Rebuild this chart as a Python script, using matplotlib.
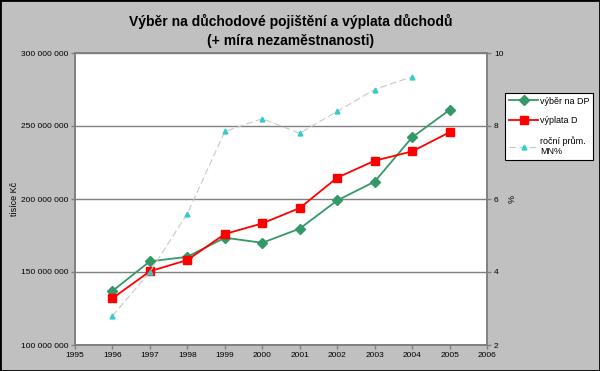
import numpy as np
import matplotlib.pyplot as plt

plt.rcParams['font.family'] = ['Liberation Sans', 'DejaVu Sans']

years = [1996, 1997, 1998, 1999, 2000, 2001, 2002, 2003, 2004, 2005]
vyber = [137.0, 157.3, 160.4, 173.5, 170.0, 179.7, 199.0, 211.9, 242.2, 261.0]  # mil. tisíc Kč
vyplata = [132.0, 150.5, 158.2, 176.0, 183.3, 193.8, 214.6, 226.2, 232.6, 245.7]
mn_years = [1996, 1997, 1998, 1999, 2000, 2001, 2002, 2003, 2004]
mn = [2.8, 4.0, 5.6, 7.85, 8.2, 7.8, 8.4, 9.0, 9.35]

bg = '#c0c0c0'
grid_c = '#808080'

fig = plt.figure(figsize=(6, 3.71), dpi=100, facecolor=bg)
fig.patches.append(plt.Rectangle((0, 0), 1, 1, transform=fig.transFigure,
                                 fill=False, edgecolor='black', linewidth=2))
W, H = 600, 371
ax = fig.add_axes([75 / W, 1 - 345 / H, (487 - 75) / W, (345 - 53) / H])
ax.set_facecolor('white')
ax2 = ax.twinx()

l1, = ax.plot(years, np.array(vyber) * 1e6, color='#339966', lw=1.3,
              marker='D', ms=5, label='výběr na DP')
l2, = ax.plot(years, np.array(vyplata) * 1e6, color='#ff0000', lw=1.3,
              marker='s', ms=5.5, label='výplata D')
l3, = ax2.plot(mn_years, mn, color='#c8c8c8', lw=0.8, ls=(0, (6, 3)),
               marker='^', ms=3.5, mfc='#33cccc', mec='#33cccc',
               label='roční prům.\nMN%')

ax.set_xlim(1995, 2006)
ax.set_ylim(100e6, 300e6)
ax2.set_ylim(2, 10)
ax.set_xticks(range(1995, 2007))
ax.set_yticks([100e6, 150e6, 200e6, 250e6, 300e6])
ax.set_yticklabels(['100 000 000', '150 000 000', '200 000 000',
                    '250 000 000', '300 000 000'])
ax2.set_yticks([2, 4, 6, 8, 10])
ax.yaxis.grid(True, color=grid_c, lw=1)
ax.set_axisbelow(True)

for a in (ax, ax2):
    for s in a.spines.values():
        s.set_color(grid_c)
        s.set_linewidth(1.2)
    a.tick_params(labelsize=6, colors=grid_c, labelcolor='black',
                  length=3, width=1, pad=2)

ax.set_ylabel('tisíce Kč', fontsize=6.5)
ax.yaxis.set_label_coords((19 - 75) / 412, 0.5)
ax2.set_ylabel('%', fontsize=6.5)
ax2.yaxis.set_label_coords((508 - 75) / 412, 0.5)

fig.text(0.485, 1 - 31 / H, 'Výběr na důchodové pojištění a výplata důchodů\n(+ míra nezaměstnanosti)',
         ha='center', va='center', fontsize=10, fontweight='bold', linespacing=1.4)

leg = fig.legend(handles=[l1, l2, l3], loc='upper left',
                 bbox_to_anchor=(505 / W, 1 - 93 / H), borderaxespad=0,
                 fontsize=6.5, frameon=True, fancybox=False, edgecolor='black',
                 facecolor='white', framealpha=1, handlelength=3.3,
                 labelspacing=1.2, borderpad=0.4, handletextpad=0.2)
leg.get_frame().set_linewidth(0.8)

fig.savefig('out.png', dpi=100, facecolor=bg)
